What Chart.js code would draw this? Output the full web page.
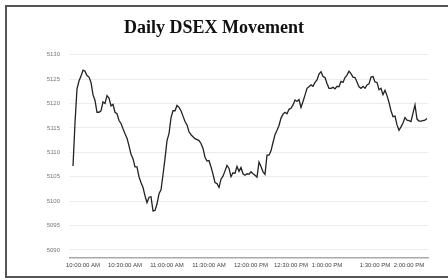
<!DOCTYPE html>
<html>
<head>
<meta charset="utf-8">
<script src="https://cdn.jsdelivr.net/npm/chart.js@4/dist/chart.umd.min.js"></script>
<style>
  html, body { margin: 0; padding: 0; background: #fff; }
  #frame { position: absolute; left: 5px; top: 5px; width: 460px; height: 273px; box-sizing: border-box; border: 2px solid #555; }
  #stage { position: absolute; left: 0; top: 0; }
</style>
</head>
<body>
<div id="frame"></div>
<canvas id="stage" width="448" height="280"></canvas>
<script>
// DSEX index, one reading per sample
const values = [
  5107.2, 5116, 5123, 5124.6, 5125.6, 5126.8, 5126.6, 5125.7, 5125.4, 5124.3,
  5121.8, 5120.6, 5118.2, 5118.2, 5118.5, 5120.3, 5120, 5121.6, 5121.1, 5119.5,
  5119.8, 5118.2, 5117.9, 5116.5, 5115.9, 5114.8, 5113.8, 5112.9, 5111.3, 5109.6,
  5108.7, 5107, 5107, 5105, 5103.8, 5102.8, 5101.1, 5099.7, 5100.8, 5100.9,
  5098, 5098.1, 5099.4, 5101.5, 5102.3, 5105.4, 5108.7, 5112.4, 5113.8, 5117.1,
  5118.5, 5118.5, 5119.6, 5119.2, 5118.5, 5117.4, 5116.3, 5115.6, 5114.2, 5113.6,
  5113.2, 5112.8, 5112.6, 5112.4, 5111.8, 5110.8, 5109, 5108.2, 5108.3, 5107,
  5105.5, 5103.8, 5103.6, 5102.8, 5104.5, 5105.1, 5106.2, 5107.3, 5106.7, 5105,
  5105.8, 5105.7, 5107.1, 5106.1, 5106.9, 5105.6, 5105.3, 5105.6, 5105.5, 5106,
  5105.6, 5105.3, 5104.9, 5108, 5107.1, 5106, 5105.5, 5109.4, 5109.4, 5110.3,
  5112, 5113.6, 5114.5, 5115.5, 5117, 5117.8, 5118.2, 5117.9, 5118.8, 5119,
  5119.7, 5120.7, 5120.4, 5120.8, 5119.2, 5120.4, 5121.7, 5123.1, 5123.4, 5123.8,
  5123.5, 5124.3, 5124.8, 5126, 5126.5, 5125.5, 5125.3, 5124.1, 5123.1, 5123.1,
  5123.3, 5123, 5123.5, 5123.4, 5124.5, 5124.3, 5125.3, 5125.8, 5126.6, 5126.1,
  5125.4, 5125.3, 5124.4, 5123.4, 5123.1, 5123.5, 5123.1, 5123.8, 5124, 5125.4,
  5125.5, 5124.4, 5124.3, 5122.8, 5123.1, 5121.8, 5122.7, 5121.6, 5120.2, 5118.5,
  5117.3, 5117.4, 5115.6, 5114.5, 5115.2, 5116, 5117.1, 5116.6, 5116.5, 5116.3,
  5118, 5119.7, 5116.8, 5116.4, 5116.4, 5116.5, 5116.6, 5116.9
];

// sample index where each time label sits
const timeIdx = [5, 26, 47, 68, 89, 109, 127, 151, 168];
const timeLabels = ['10:00:00 AM', '10:30:00 AM', '11:00:00 AM', '11:30:00 AM', '12:00:00 PM',
  '12:30:00 PM', '1:00:00 PM', '1:30:00 PM', '2:00:00 PM'];
const yTicks = [5090, 5095, 5100, 5105, 5110, 5115, 5120, 5125, 5130];

const points = values.map((v, i) => ({ x: i, y: v }));

new Chart(document.getElementById('stage'), {
  type: 'line',
  data: {
    datasets: [{
      data: points,
      borderColor: '#222',
      borderWidth: 1.3,
      pointRadius: 0,
      tension: 0,
      fill: false
    }]
  },
  options: {
    responsive: false,
    animation: false,
    layout: { padding: { left: 0, right: 20, top: 0, bottom: 7 } },
    plugins: {
      legend: { display: false },
      tooltip: { enabled: false },
      title: {
        display: true,
        text: 'Daily DSEX Movement',
        color: '#111',
        font: { family: '"Liberation Serif", serif', size: 18, weight: 'bold' },
        padding: { top: 18, bottom: 15 }
      }
    },
    scales: {
      x: {
        type: 'linear',
        min: -1.5,
        max: 177.5,
        afterBuildTicks: s => { s.ticks = timeIdx.map(v => ({ value: v })); },
        ticks: {
          autoSkip: false,
          maxRotation: 0,
          padding: 4,
          color: '#444',
          font: { family: '"Liberation Sans", Arial, sans-serif', size: 6 },
          callback: v => timeLabels[timeIdx.indexOf(v)] || ''
        },
        grid: { display: false, drawTicks: false },
        border: { display: true, color: '#aaa', width: 1.5 }
      },
      y: {
        min: 5088.4,
        max: 5130,
        afterBuildTicks: s => { s.ticks = yTicks.map(v => ({ value: v })); },
        afterFit: s => { s.width = 70; },
        ticks: {
          padding: 10,
          color: '#777',
          font: { family: '"Liberation Sans", Arial, sans-serif', size: 6 },
          callback: v => String(v)
        },
        grid: { color: '#ececec', drawTicks: false },
        border: { display: false }
      }
    }
  }
});
</script>
</body>
</html>
